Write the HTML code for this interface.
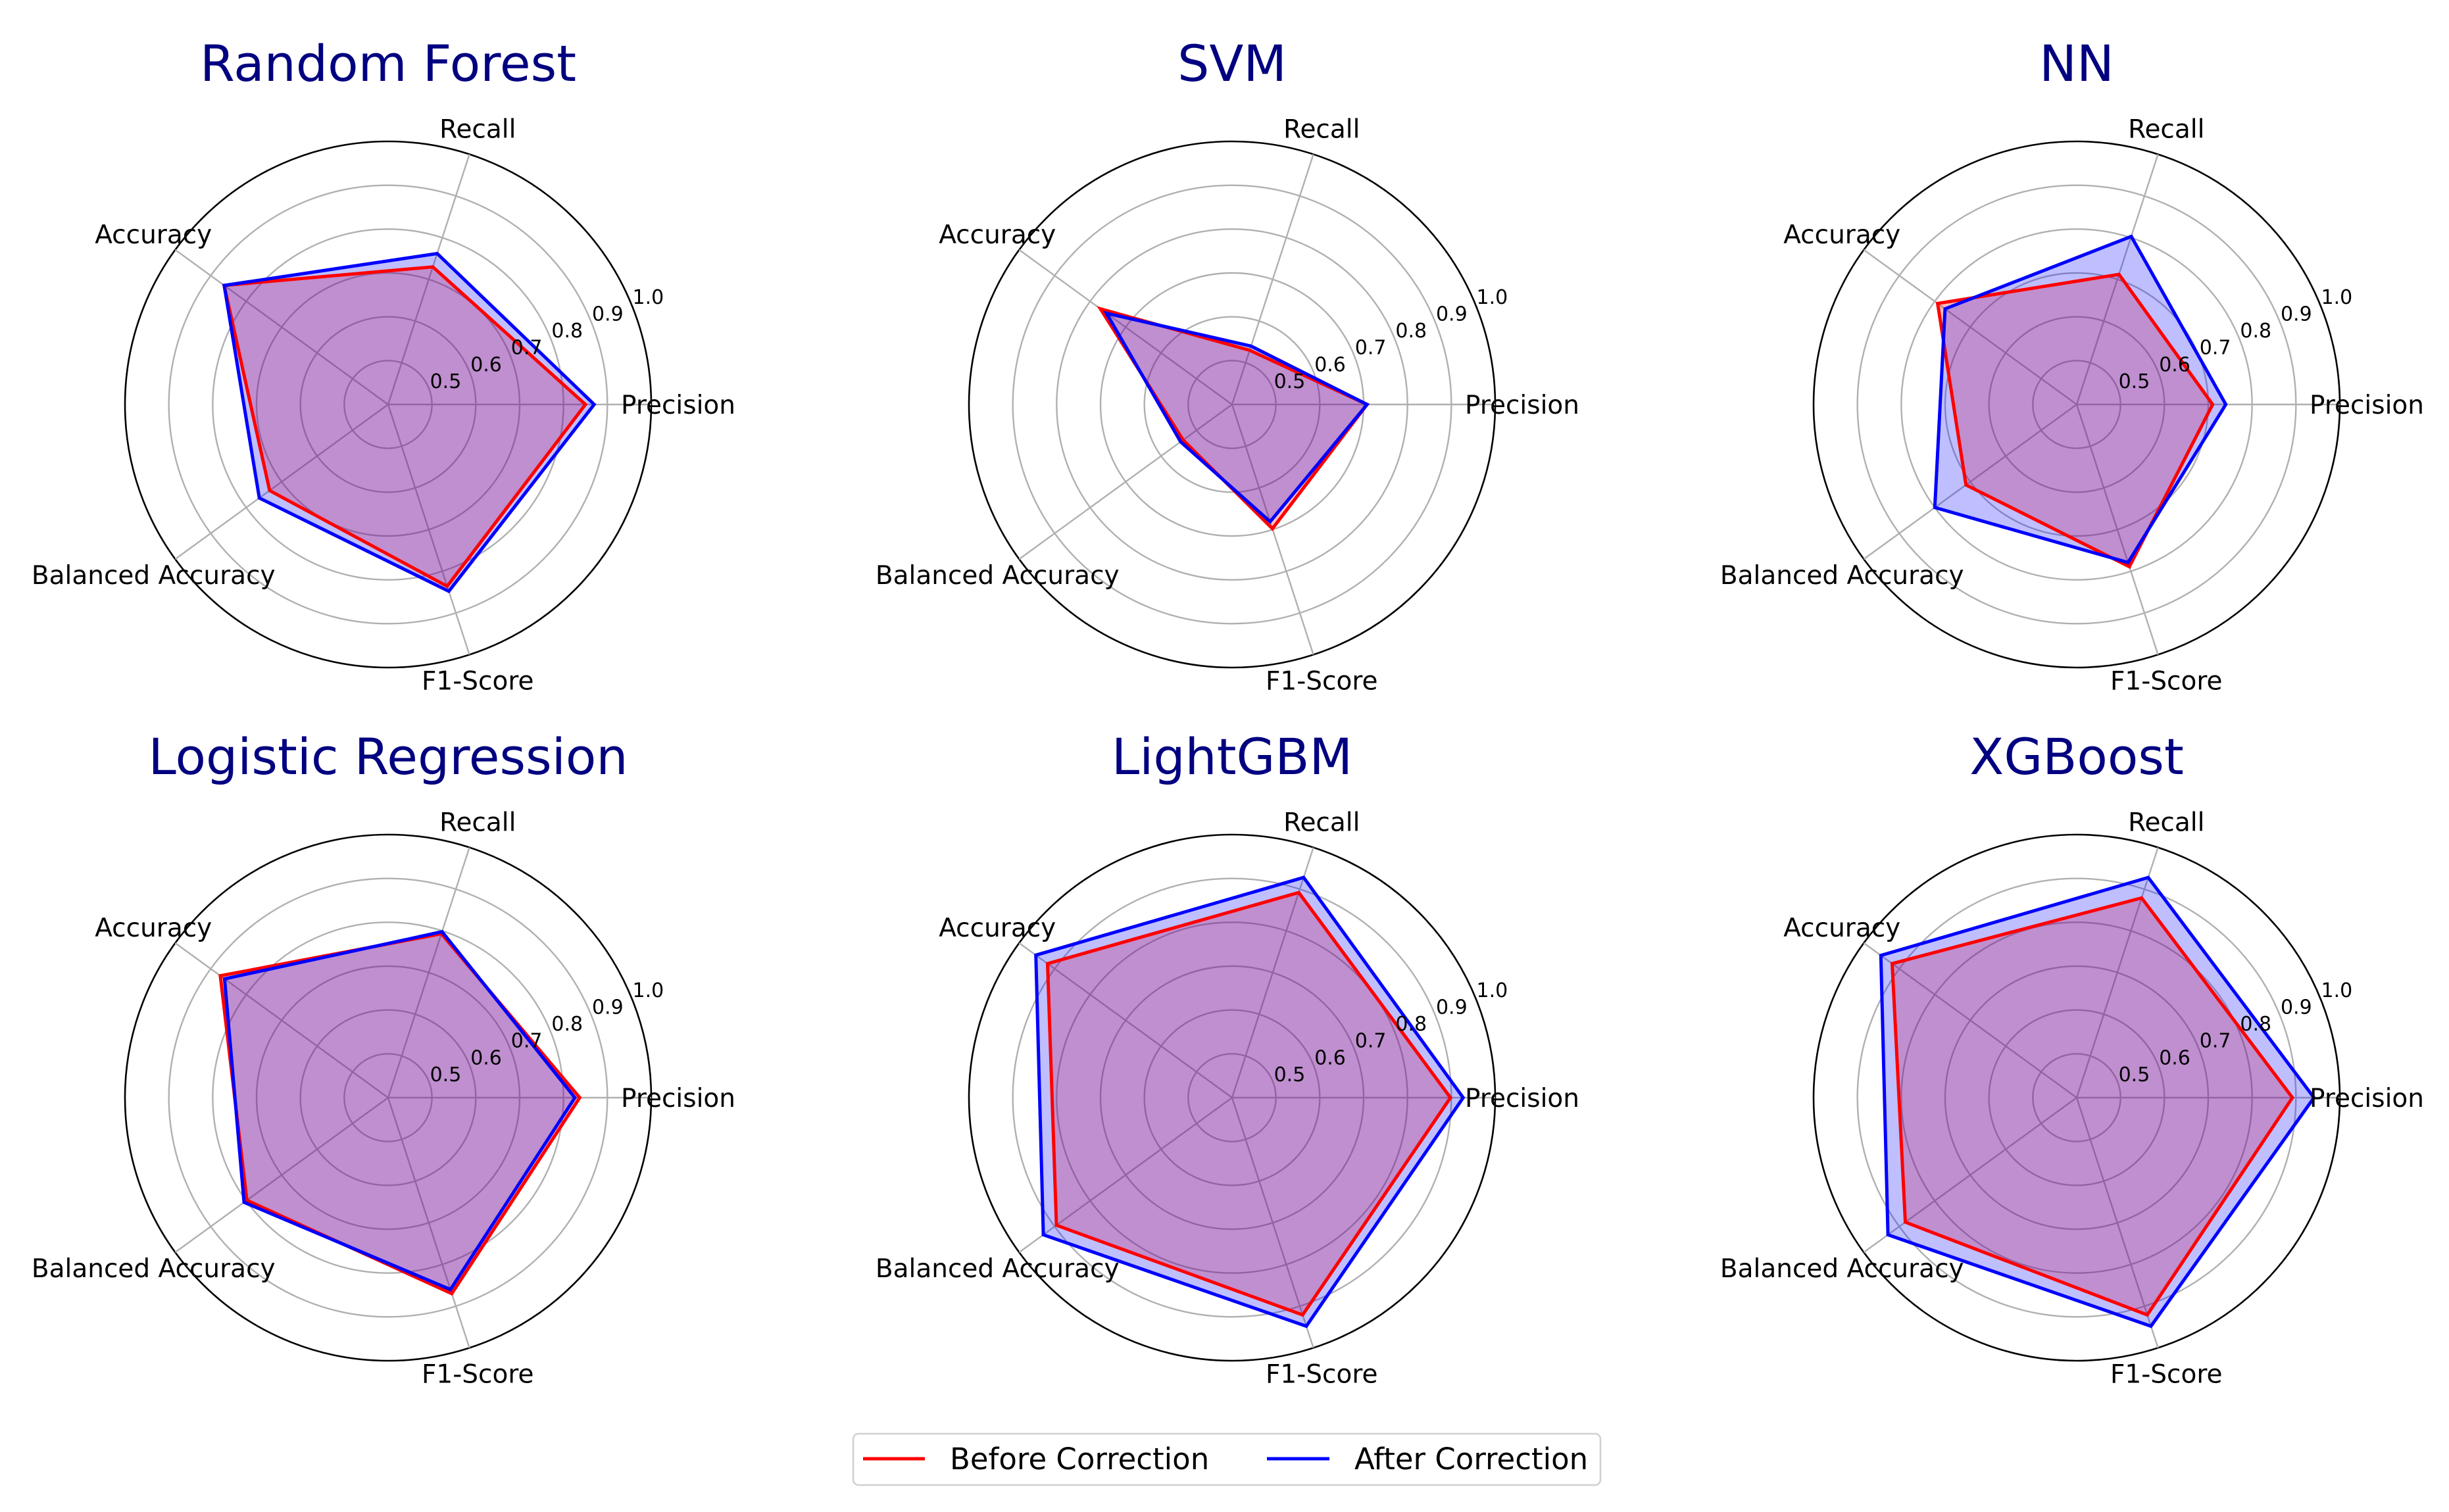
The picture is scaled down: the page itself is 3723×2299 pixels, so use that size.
<!DOCTYPE html>
<html><head><meta charset="utf-8"><style>
html,body{margin:0;padding:0;background:#fff;}
svg{display:block;}
text{font-family:"DejaVu Sans","Liberation Sans",sans-serif;}
</style></head>
<body>
<svg id="fig" width="3723" height="2299" viewBox="0 0 3723 2299" xmlns="http://www.w3.org/2000/svg">
<g id="charts"></g>
<g>
  <rect x="1297" y="2180" width="1136" height="78" rx="8" fill="#fff" stroke="#d0d0d0" stroke-width="2.5"/>
  <line x1="1312" y1="2218" x2="1406" y2="2218" stroke="#ff0000" stroke-width="5"/>
  <text x="1444" y="2234" font-size="45" fill="#000">Before Correction</text>
  <line x1="1926" y1="2218" x2="2021" y2="2218" stroke="#0000ff" stroke-width="5"/>
  <text x="2059" y="2234" font-size="45" fill="#000">After Correction</text>
</g>
</svg>
<script>
const categories = ["Precision","Recall","Accuracy","Balanced Accuracy","F1-Score"];
const models = ["Random Forest","SVM","NN","Logistic Regression","LightGBM","XGBoost"];
const beforeRF  = [0.850,0.730,0.862,0.734,0.836];
const afterRF   = [0.870,0.762,0.862,0.763,0.848];
const beforeSVM = [0.708,0.530,0.771,0.538,0.698];
const afterSVM  = [0.708,0.540,0.754,0.545,0.681];
const beforeNN  = [0.710,0.712,0.792,0.712,0.789];
const afterNN   = [0.740,0.803,0.771,0.800,0.779];
const beforeLR  = [0.837,0.793,0.873,0.798,0.870];
const afterLR   = [0.826,0.798,0.861,0.806,0.860];
const beforeLGBM= [0.898,0.892,0.920,0.895,0.921];
const afterLGBM = [0.927,0.928,0.953,0.932,0.948];
const beforeXGB = [0.892,0.879,0.920,0.883,0.921];
const afterXGB  = [0.941,0.928,0.952,0.932,0.948];
const tickValues = [0.5,0.6,0.7,0.8,0.9,1.0];
const tickLabels = ["0.5","0.6","0.7","0.8","0.9","1.0"];
const rMin = 0.4, rMax = 1.0;

const beforeAll = [beforeRF,beforeSVM,beforeNN,beforeLR,beforeLGBM,beforeXGB];
const afterAll = [afterRF,afterSVM,afterNN,afterLR,afterLGBM,afterXGB];
const NS = "http://www.w3.org/2000/svg";
const R = 400;
const centersX = [590,1873,3157];
const centersY = [615,1669];
function rScale(v){ return (v - rMin) / (rMax - rMin) * R; }
function angleOf(i){ return i * 2 * Math.PI / categories.length; }
function pt(cx,cy,v,i){ const r=rScale(v), a=angleOf(i); return [cx + r*Math.cos(a), cy - r*Math.sin(a)]; }
function mk(tag, attrs, parent){ const e=document.createElementNS(NS,tag); for(const k in attrs) e.setAttribute(k,attrs[k]); parent.appendChild(e); return e; }

const root = document.getElementById('charts');
models.forEach((name, m) => {
  const cx = centersX[m % 3], cy = centersY[Math.floor(m / 3)];
  const g = mk('g', {}, root);
  
  
  tickValues.forEach((t, k) => {
    const c = mk('circle', {cx:cx, cy:cy, r:rScale(t), fill:'none', stroke: k===tickValues.length-1 ? '#000' : '#b0b0b0', 'stroke-width': k===tickValues.length-1 ? 2.6 : 2.4}, g);
    
    
  });
  categories.forEach((cat, i) => {
    const p = pt(cx, cy, rMax, i);
    const l = mk('line', {x1:cx, y1:cy, x2:p[0], y2:p[1], stroke:'#b0b0b0', 'stroke-width':2.4}, g);
    
    
  });
  const series = [[beforeAll[m], '#ff0000', 'rgba(255,0,0,0.25)', 'before'], [afterAll[m], '#0000ff', 'rgba(0,0,255,0.25)', 'after']];
  const ptsArr = series.map(s => s[0].map((v, i) => pt(cx, cy, v, i).map(n => n.toFixed(1)).join(',')).join(' '));
  series.forEach((s, j) => {
    const fill = mk('polygon', {points:ptsArr[j], fill:s[2], stroke:'none'}, g);
    
    
  });
  series.forEach((s, j) => {
    const line = mk('polygon', {points:ptsArr[j], fill:'none', stroke:s[1], 'stroke-width':5, 'stroke-linejoin':'miter'}, g);
    
    
  });
  tickValues.forEach((t, k) => {
    const a = 22.5 * Math.PI / 180, r = rScale(t) + 28;
    const tx = mk('text', {x:cx + r*Math.cos(a), y:cy - r*Math.sin(a) + 11, 'font-size':30, 'text-anchor':'middle', fill:'#000'}, g);
    tx.textContent = tickLabels[k];
    
    
  });
  categories.forEach((cat, i) => {
    const a = angleOf(i), r = 441;
    const tx = mk('text', {x:cx + r*Math.cos(a), y:cy - r*Math.sin(a) + 14, 'font-size':39, 'text-anchor':'middle', fill:'#000'}, g);
    tx.textContent = cat;
    
    
  });
  const ti = mk('text', {x:cx, y:cy - 492, 'font-size':76, 'text-anchor':'middle', fill:'#000080'}, g);
  ti.textContent = name;
  
  
});
</script>
</body></html>
